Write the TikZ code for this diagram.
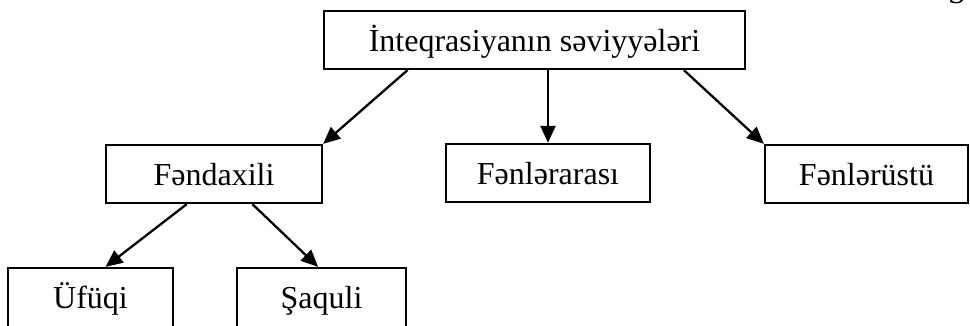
\documentclass[tikz,border=0pt]{standalone}
\usepackage{fontspec}
\setmainfont{Liberation Serif}
\usetikzlibrary{arrows.meta,calc}
\begin{document}
\begin{tikzpicture}[x=1pt,y=-1pt,
 box/.style={draw,line width=2.3pt,rectangle,inner sep=0pt,minimum height=58pt,text height=23pt,text depth=0pt,font=\fontsize{32}{38}\selectfont},
 lowbox/.style={box,minimum height=62pt,text height=18pt},
 arr/.style={line width=2.3pt,-{Triangle[length=17pt,width=15pt]}}]
\useasboundingbox (0,0) rectangle (970,325);
\node[box,minimum width=421pt] (top) at (534.5,40) {İnteqrasiyanın səviyyələri};
\node[box,minimum width=216pt] (fd) at (214,174) {Fəndaxili};
\node[box,minimum width=204pt] (fa) at (548,173) {Fənlərarası};
\node[box,minimum width=203pt] (fu) at (866.5,174) {Fənlərüstü};
\node[lowbox,minimum width=165pt] (uf) at (90.5,299) {Üfüqi};
\node[lowbox,minimum width=169pt] (sq) at (321.5,299) {Şaquli};
\node[anchor=base west,inner sep=0pt,font=\fontsize{32}{38}\selectfont] (frag) at (948,3) {S};
\draw[arr] ($(top.south west)!0.2!(top.south east)$) -- (fd.north east);
\draw[arr] (top.south -| fa.north) -- (fa.north);
\draw[arr] ($(top.south west)!0.853!(top.south east)$) -- (fu.north west);
\draw[arr] ($(fd.south west)!0.375!(fd.south east)$) -- ($(uf.north west)!0.59!(uf.north east)$);
\draw[arr] ($(fd.south west)!0.676!(fd.south east)$) -- ($(sq.north west)!0.48!(sq.north east)$);
\end{tikzpicture}
\end{document}
